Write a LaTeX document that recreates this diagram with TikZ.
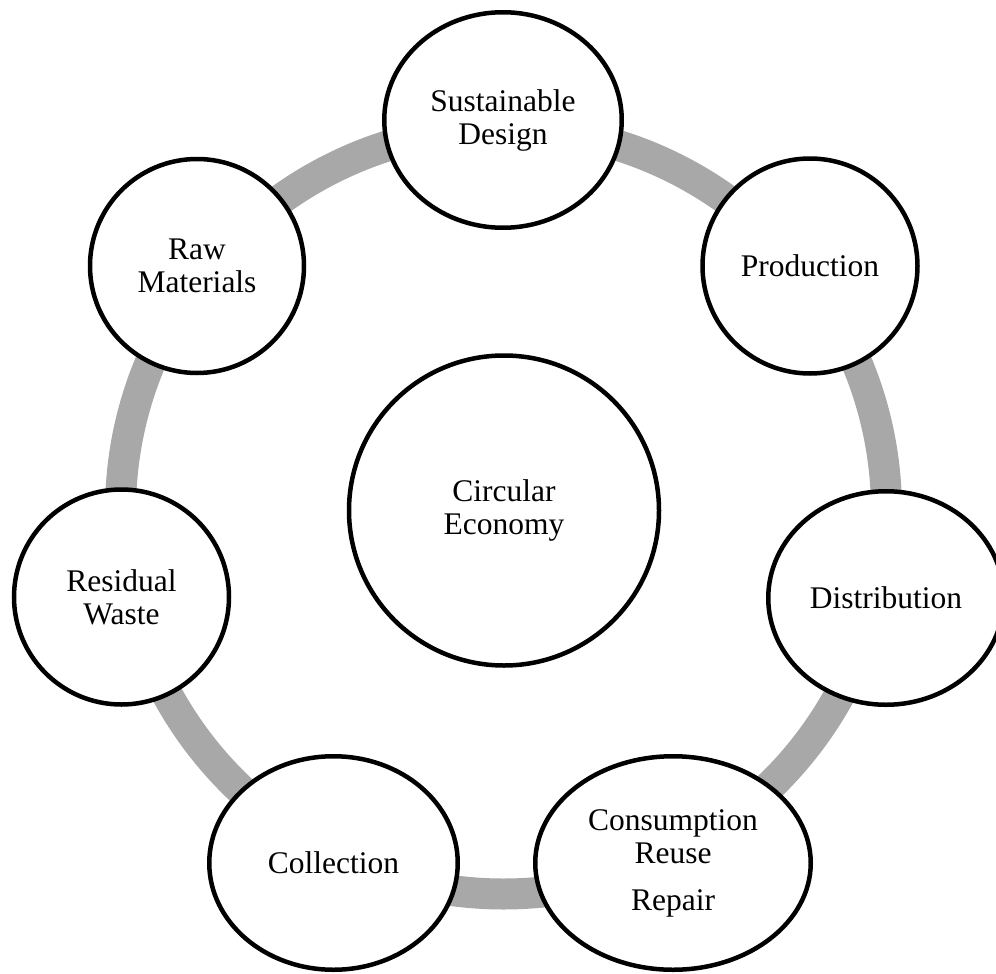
\documentclass[tikz,border=0pt]{standalone}
\usepackage{fontspec}
\setmainfont{Liberation Serif}
\usetikzlibrary{shapes.geometric}
\definecolor{ringgray}{RGB}{168,168,168}
\begin{document}
\begin{tikzpicture}[x=1pt,y=-1pt,
  stage/.style={draw=black, line width=4.5pt, fill=white, inner sep=0pt, align=center,
    font=\fontsize{31.5}{33}\selectfont},
  roundstage/.style={stage, circle},
  ovalstage/.style={stage, ellipse}]
\useasboundingbox (0,0) rectangle (996,974);
\coordinate (mid) at (503.5,511);
\draw[ringgray, line width=31pt] (mid) circle[radius=383];
\node[roundstage, minimum size=310pt] (ce) at (504,510.5) {Circular\\Economy};
\node[ovalstage, minimum width=237.5pt, minimum height=215.5pt] (sd) at (503,120) {Sustainable\\Design};
\node[roundstage, minimum size=214pt] (rm) at (197,266) {Raw\\Materials};
\node[roundstage, minimum size=215pt] (pr) at (810,266) {Production};
\node[ovalstage, minimum width=235.5pt, minimum height=213.5pt] (di) at (886,598) {Distribution};
\node[ovalstage, minimum width=275.5pt, minimum height=213.5pt] (cr) at (673,863) {Consumption\\Reuse\\[14pt]Repair};
\node[ovalstage, minimum width=248.5pt, minimum height=213.5pt] (co) at (333.5,863) {Collection};
\node[roundstage, minimum size=215pt] (rw) at (121.5,597) {Residual\\Waste};
\end{tikzpicture}
\end{document}
